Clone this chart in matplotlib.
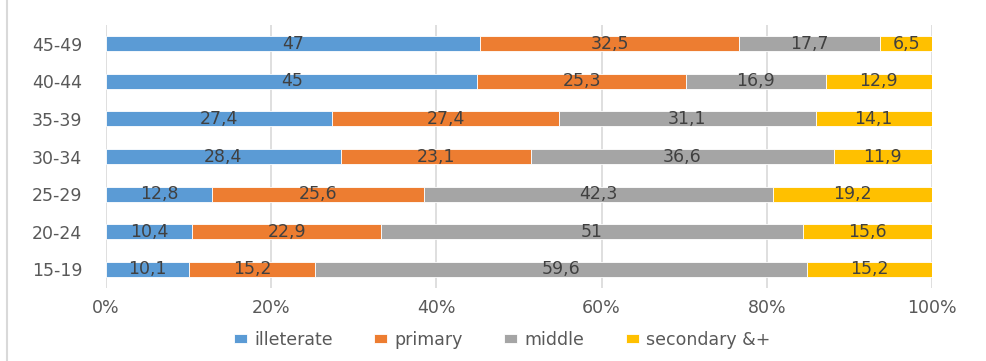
import matplotlib.pyplot as plt
import matplotlib.lines as mlines
import numpy as np

plt.rcParams['font.family'] = ['DejaVu Sans']

age_groups = ["15-19", "20-24", "25-29", "30-34", "35-39", "40-44", "45-49"]
series_names = ["illeterate", "primary", "middle", "secondary &+"]
illiterate = [10.1, 10.4, 12.8, 28.4, 27.4, 45, 47]
primary = [15.2, 22.9, 25.6, 23.1, 27.4, 25.3, 32.5]
middle = [59.6, 51, 42.3, 36.6, 31.1, 16.9, 17.7]
secondary = [15.2, 15.6, 19.2, 11.9, 14.1, 12.9, 6.5]
x_ticks = [0, 20, 40, 60, 80, 100]
x_tick_labels = ["0%", "20%", "40%", "60%", "80%", "100%"]

colors = ["#5B9BD5", "#ED7D31", "#A5A5A5", "#FFC000"]

fig = plt.figure(figsize=(9.87, 3.61), dpi=100)
ax = fig.add_axes([106 / 987, 1 - 288 / 361, (932 - 106) / 987, (288 - 25) / 361])

data = np.array([illiterate, primary, middle, secondary], dtype=float)
totals = data.sum(axis=0)
shares = data / totals * 100
y = np.arange(len(age_groups))

fs = 12.5

left = np.zeros(len(age_groups))
for i, name in enumerate(series_names):
    bars = ax.barh(y, shares[i], left=left, height=0.4, color=colors[i],
                   edgecolor="white", linewidth=0.6, label=name, zorder=3)
    for j, b in enumerate(bars):
        val = data[i][j]
        txt = f"{val:g}".replace(".", ",")
        ax.text(left[j] + shares[i][j] / 2, y[j], txt, ha="center", va="center",
                fontsize=fs, color="#404040", zorder=4)
    left += shares[i]

ax.set_xlim(0, 100)
ax.set_ylim(-0.5, 6.5)
ax.set_yticks(y)
ax.set_yticklabels(age_groups, fontsize=fs, color="#595959")
ax.set_xticks(x_ticks)
ax.set_xticklabels(x_tick_labels, fontsize=fs, color="#595959")
ax.tick_params(axis="y", length=0, pad=17)
ax.tick_params(axis="x", length=0, pad=8)
ax.grid(axis="x", color="#D9D9D9", linewidth=1.2, zorder=0)
for s in ax.spines.values():
    s.set_visible(False)

leg = fig.legend(loc="center", bbox_to_anchor=(502 / 987, 1 - 340 / 361), ncol=4,
                 frameon=False, fontsize=fs, handlelength=0.75, handleheight=0.4,
                 handletextpad=0.4, columnspacing=2.4)
for t in leg.get_texts():
    t.set_color("#595959")

fig.add_artist(mlines.Line2D([7 / 987, 7 / 987], [0, 1], transform=fig.transFigure,
                             color="#D9D9D9", linewidth=1.5))

fig.savefig("out.png", dpi=100)
